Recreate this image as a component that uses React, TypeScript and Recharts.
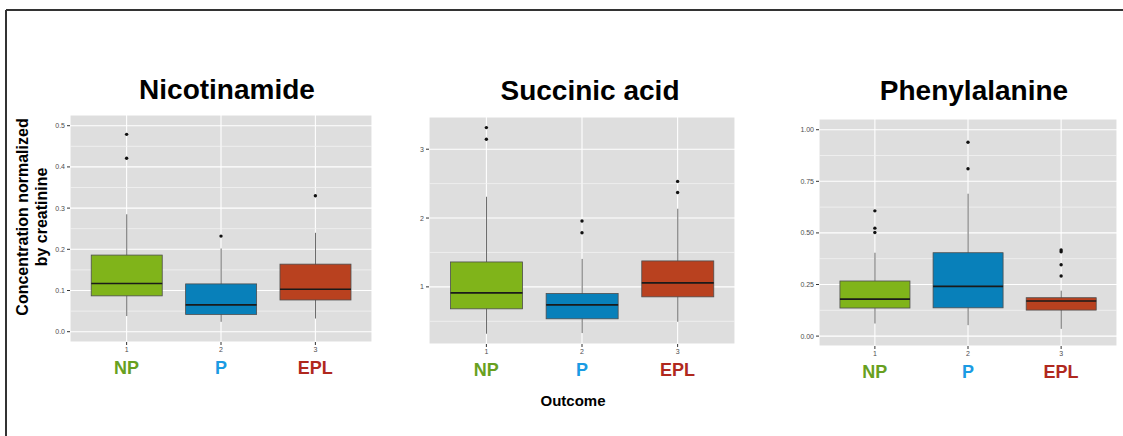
import { ComposedChart, Bar, Scatter, XAxis, YAxis, CartesianGrid } from 'recharts';

// categories on the x axis and their group names
const categories = ['1', '2', '3'];
const groupLabels = ['NP', 'P', 'EPL'];
const boxColors = ['#80b41a', '#0880ba', '#b9411f'];
const labelColors = ['#68a020', '#1b9be3', '#b0281e'];

// Nicotinamide
const nicoLow = [0.038, 0.024, 0.032];
const nicoQ1 = [0.087, 0.042, 0.077];
const nicoMed = [0.117, 0.065, 0.103];
const nicoQ3 = [0.186, 0.116, 0.164];
const nicoHigh = [0.285, 0.202, 0.24];
const nicoOutliers = [[0.479, 0.421], [0.232], [0.33]];
const nicoTicks = [0, 0.1, 0.2, 0.3, 0.4, 0.5];
const nicoMinor = [0.05, 0.15, 0.25, 0.35, 0.45];

// Succinic acid
const succLow = [0.319, 0.329, 0.493];
const succQ1 = [0.681, 0.536, 0.855];
const succMed = [0.913, 0.739, 1.058];
const succQ3 = [1.362, 0.903, 1.377];
const succHigh = [2.309, 1.406, 2.135];
const succOutliers = [[3.314, 3.145], [1.957, 1.787], [2.532, 2.372]];
const succTicks = [1, 2, 3];
const succMinor = [0.5, 1.5, 2.5];

// Phenylalanine
const pheLow = [0.061, 0.053, 0.035];
const pheQ1 = [0.136, 0.137, 0.126];
const pheMed = [0.179, 0.241, 0.17];
const pheQ3 = [0.267, 0.404, 0.186];
const pheHigh = [0.404, 0.69, 0.22];
const pheOutliers = [[0.607, 0.523, 0.502], [0.939, 0.811], [0.417, 0.409, 0.346, 0.291]];
const pheTicks = [0, 0.25, 0.5, 0.75, 1.0];
const pheMinor = [0.125, 0.375, 0.625, 0.875];

const FONT = '"Liberation Sans", Arial, sans-serif';
const Y_AXIS_W = 30;
const X_AXIS_H = 45;

const buildRows = (low: number[], q1: number[], med: number[], q3: number[], high: number[]) =>
  categories.map((cat, i) => ({
    cat,
    range: [low[i], high[i]],
    low: low[i],
    q1: q1[i],
    med: med[i],
    q3: q3[i],
    high: high[i],
    color: boxColors[i],
  }));

const buildOutliers = (out: number[][]) =>
  out.flatMap((vals, i) => vals.map((v) => ({ cat: categories[i], v })));

function BoxShape(props: any) {
  const { x, y, width, height, payload } = props;
  const top = Math.min(y, y + height);
  const h = Math.abs(height);
  const k = h / (payload.high - payload.low);
  const toY = (v: number) => top + (payload.high - v) * k;
  const cx = x + width / 2;
  return (
    <g>
      <line x1={cx} x2={cx} y1={toY(payload.high)} y2={toY(payload.low)} stroke="#6b6b6b" strokeWidth={1} />
      <rect
        x={x}
        y={toY(payload.q3)}
        width={width}
        height={toY(payload.q1) - toY(payload.q3)}
        fill={payload.color}
        stroke="#4d4d4d"
        strokeWidth={0.8}
      />
      <line x1={x} x2={x + width} y1={toY(payload.med)} y2={toY(payload.med)} stroke="#1a1a1a" strokeWidth={1.6} />
    </g>
  );
}

function CatTick(props: any) {
  const { x, y, payload } = props;
  const i = categories.indexOf(String(payload.value));
  return (
    <g>
      <text x={x} y={y + 5} textAnchor="middle" fontSize={7} fill="#4d4d4d" fontFamily={FONT}>
        {payload.value}
      </text>
      <text x={x} y={y + 27} textAnchor="middle" fontSize={18} fontWeight="bold" fill={labelColors[i]} fontFamily={FONT}>
        {groupLabels[i]}
      </text>
    </g>
  );
}

interface PanelProps {
  rows: ReturnType<typeof buildRows>;
  outliers: { cat: string; v: number }[];
  domain: [number, number];
  ticks: number[];
  minor: number[];
  digits: number;
  left: number;
  top: number;
  width: number;
  height: number;
}

function Panel({ rows, outliers, domain, ticks, minor, digits, left, top, width, height }: PanelProps) {
  const pad = width * 0.03125;
  return (
    <div style={{ position: 'absolute', left: left - Y_AXIS_W, top }}>
      <ComposedChart
        width={width + Y_AXIS_W}
        height={height + X_AXIS_H}
        data={rows}
        margin={{ top: 0, right: 0, bottom: 0, left: 0 }}
        barCategoryGap="12.5%"
      >
        <CartesianGrid fill="#dedede" stroke="#ffffff" strokeWidth={1.1} />
        <CartesianGrid vertical={false} horizontalValues={minor} stroke="#f3f3f3" strokeWidth={0.8} />
        <XAxis
          dataKey="cat"
          type="category"
          allowDuplicatedCategory={false}
          height={X_AXIS_H}
          padding={{ left: pad, right: pad }}
          axisLine={false}
          tickLine={{ stroke: '#333333' }}
          tickSize={3}
          tickMargin={2}
          tick={<CatTick />}
          interval={0}
        />
        <YAxis
          type="number"
          domain={domain}
          ticks={ticks}
          allowDataOverflow
          width={Y_AXIS_W}
          axisLine={false}
          tickLine={{ stroke: '#333333' }}
          tickSize={3}
          tickMargin={2}
          tickFormatter={(v: number) => v.toFixed(digits)}
          tick={{ fontSize: 7, fill: '#4d4d4d', fontFamily: FONT }}
        />
        <Bar dataKey="range" shape={<BoxShape />} isAnimationActive={false} />
        <Scatter
          data={outliers}
          dataKey="v"
          isAnimationActive={false}
          shape={(p: any) => <circle cx={p.cx} cy={p.cy} r={1.7} fill="#111111" />}
        />
      </ComposedChart>
    </div>
  );
}

export default function App() {
  return (
    <div style={{ position: 'absolute', left: 0, top: 0, width: 1123, height: 436, background: '#ffffff', overflow: 'hidden', fontFamily: FONT }}>
      <Panel
        rows={buildRows(nicoLow, nicoQ1, nicoMed, nicoQ3, nicoHigh)}
        outliers={buildOutliers(nicoOutliers)}
        domain={[-0.025, 0.526]}
        ticks={nicoTicks}
        minor={nicoMinor}
        digits={1}
        left={70}
        top={115}
        width={302}
        height={227}
      />
      <Panel
        rows={buildRows(succLow, succQ1, succMed, succQ3, succHigh)}
        outliers={buildOutliers(succOutliers)}
        domain={[0.17, 3.468]}
        ticks={succTicks}
        minor={succMinor}
        digits={0}
        left={429}
        top={117}
        width={306}
        height={227}
      />
      <Panel
        rows={buildRows(pheLow, pheQ1, pheMed, pheQ3, pheHigh)}
        outliers={buildOutliers(pheOutliers)}
        domain={[-0.048, 1.052]}
        ticks={pheTicks}
        minor={pheMinor}
        digits={2}
        left={819}
        top={119}
        width={298}
        height={227}
      />
      <svg width={1123} height={436} style={{ position: 'absolute', left: 0, top: 0, pointerEvents: 'none' }}>
        <line x1={6} x2={1123} y1={10} y2={10} stroke="#333333" strokeWidth={2} />
        <line x1={6} x2={6} y1={10} y2={436} stroke="#333333" strokeWidth={2} />
        <g fontFamily={FONT} fontWeight="bold" fill="#000000" textAnchor="middle">
          <text x={227} y={99} fontSize={28}>Nicotinamide</text>
          <text x={590} y={100} fontSize={28}>Succinic acid</text>
          <text x={974} y={100} fontSize={28}>Phenylalanine</text>
          <text x={573} y={406} fontSize={15}>Outcome</text>
          <g transform="translate(22, 217) rotate(-90)">
            <text x={0} y={0} fontSize={16} dominantBaseline="central">Concentration normalized</text>
          </g>
          <g transform="translate(41, 217) rotate(-90)">
            <text x={0} y={0} fontSize={16} dominantBaseline="central">by creatinine</text>
          </g>
        </g>
      </svg>
    </div>
  );
}
